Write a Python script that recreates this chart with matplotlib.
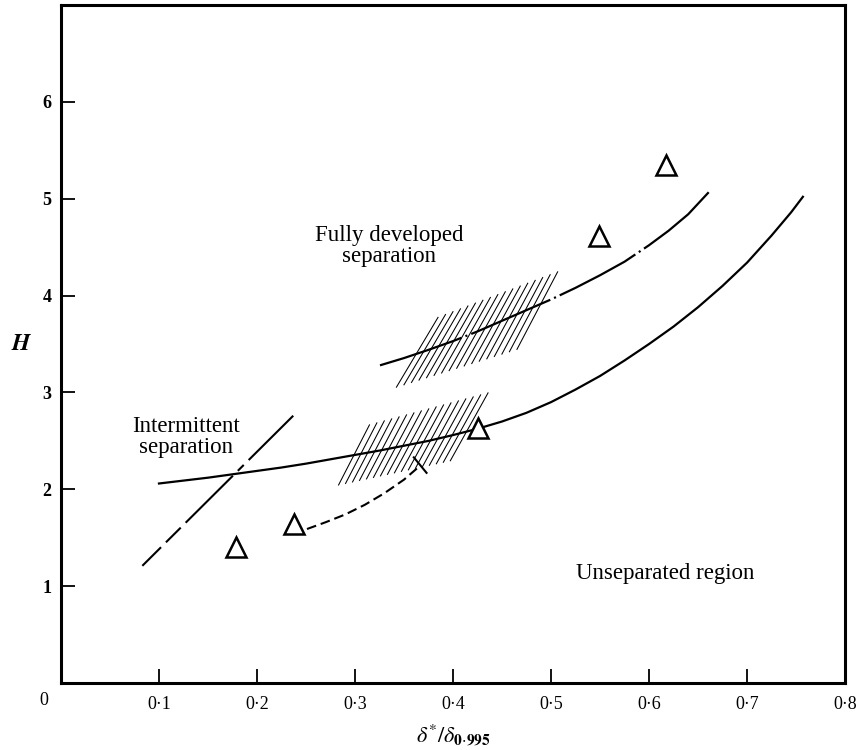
import numpy as np
import matplotlib
matplotlib.use("Agg")
import matplotlib.pyplot as plt
from matplotlib.collections import LineCollection

plt.rcParams['font.family'] = ['Liberation Serif', 'DejaVu Serif']
plt.rcParams['mathtext.fontset'] = 'stix'
plt.rcParams['lines.scale_dashes'] = False

# lower solid curve
solid_x = [0.10, 0.125, 0.15, 0.175, 0.20, 0.225, 0.25, 0.275, 0.30, 0.325, 0.35,
           0.375, 0.40, 0.425, 0.45, 0.475, 0.50, 0.525, 0.55, 0.575, 0.60,
           0.625, 0.65, 0.675, 0.70, 0.725, 0.745, 0.757]
solid_y = [2.06, 2.09, 2.12, 2.155, 2.19, 2.225, 2.265, 2.31, 2.355, 2.40, 2.45,
           2.50, 2.56, 2.625, 2.70, 2.79, 2.90, 3.03, 3.17, 3.33, 3.50,
           3.68, 3.88, 4.10, 4.34, 4.62, 4.86, 5.02]

# upper chain-dotted curve (fully developed separation)
chain_x = [0.3255, 0.35, 0.375, 0.40, 0.425, 0.45, 0.475, 0.50, 0.525, 0.55,
           0.575, 0.60, 0.62, 0.64, 0.663]
chain_y = [3.28, 3.355, 3.44, 3.53, 3.63, 3.74, 3.85, 3.96, 4.08, 4.21,
           4.35, 4.52, 4.67, 4.84, 5.09]

# intermittent separation boundary
inter_x = [0.083, 0.237]
inter_y = [1.21, 2.76]

# lower dashed curve
dash_x = [0.251, 0.27, 0.29, 0.31, 0.33, 0.35, 0.366]
dash_y = [1.59, 1.66, 1.74, 1.84, 1.96, 2.10, 2.24]

# end bar on the dashed curve
bar_x = [0.360, 0.373]
bar_y = [2.33, 2.17]

# triangles
tri_x = [0.179, 0.238, 0.425, 0.549, 0.617]
tri_y = [1.40, 1.64, 2.63, 4.62, 5.35]

# hatched bands: (bottom edge start, end), (top edge start, end)
hatch_up_bot = [(0.342, 3.05), (0.465, 3.44)]
hatch_up_top = [(0.385, 3.78), (0.507, 4.25)]
hatch_lo_bot = [(0.283, 2.04), (0.397, 2.29)]
hatch_lo_top = [(0.315, 2.67), (0.436, 3.00)]

xticks = [0.1, 0.2, 0.3, 0.4, 0.5, 0.6, 0.7, 0.8]
xticklabels = ['0·1', '0·2', '0·3', '0·4', '0·5', '0·6', '0·7', '0·8']
yticks = [1, 2, 3, 4, 5, 6]


def hatch_lines(bot, top, n):
    b0, b1 = np.array(bot[0]), np.array(bot[1])
    t0, t1 = np.array(top[0]), np.array(top[1])
    segs = []
    for t in np.linspace(0, 1, n):
        segs.append([b0 + t * (b1 - b0), t0 + t * (t1 - t0)])
    return segs


fig = plt.figure(figsize=(8.6, 7.5), dpi=100)
ax = fig.add_axes([0.0709, 0.0893, 0.9117, 0.904])

ax.plot(solid_x, solid_y, color='black', lw=1.6)
ax.plot(chain_x, chain_y, color='black', lw=1.6, dashes=[62, 3, 1.5, 3])
ax.plot(inter_x, inter_y, color='black', lw=1.5,
        dashes=[19, 5, 15, 5, 48, 5, 6, 5, 46, 20])
ax.plot(dash_x, dash_y, color='black', lw=1.5, dashes=[7, 3.5])
ax.plot(bar_x, bar_y, color='black', lw=1.5)

ax.add_collection(LineCollection(hatch_lines(hatch_up_bot, hatch_up_top, 17),
                                 colors='black', linewidths=0.75))
ax.add_collection(LineCollection(hatch_lines(hatch_lo_bot, hatch_lo_top, 17),
                                 colors='black', linewidths=0.75))

ax.plot(tri_x, tri_y, linestyle='none', marker='^', ms=14,
        mfc='white', mec='black', mew=1.8, zorder=5)

ax.text(0.335, 4.51, 'Fully developed\nseparation', ha='center', va='center',
        fontsize=16.5, linespacing=1.0)
ax.text(0.128, 2.535, 'Intermittent\nseparation', ha='center', va='center',
        fontsize=16.5, linespacing=1.0)
ax.text(0.617, 1.13, 'Unseparated region', ha='center', va='center', fontsize=16.5)

ax.set_xlim(0, 0.8)
ax.set_ylim(0, 7)
ax.set_xticks(xticks)
ax.set_xticklabels(xticklabels, fontsize=13)
ax.set_yticks(yticks)
ax.set_yticklabels([str(v) for v in yticks], fontsize=13, fontweight='bold')
ax.tick_params(direction='in', length=10, width=1.3)
ax.tick_params(axis='x', pad=9)
ax.tick_params(axis='y', pad=7)
ax.text(-0.022, -0.026, '0', transform=ax.transAxes, ha='center', va='center',
        fontsize=13)

for s in ax.spines.values():
    s.set_linewidth(2.2)

ax.set_xlabel(r'$\delta^{*}/\delta_{\mathbf{0}{\cdot}\mathbf{995}}$', fontsize=16, labelpad=7)
ax.set_ylabel(r'$\boldsymbol{H}$', fontsize=17, rotation=0, va='center')
ax.yaxis.set_label_coords(-0.05, 0.5)

fig.savefig('out.png', dpi=100)
